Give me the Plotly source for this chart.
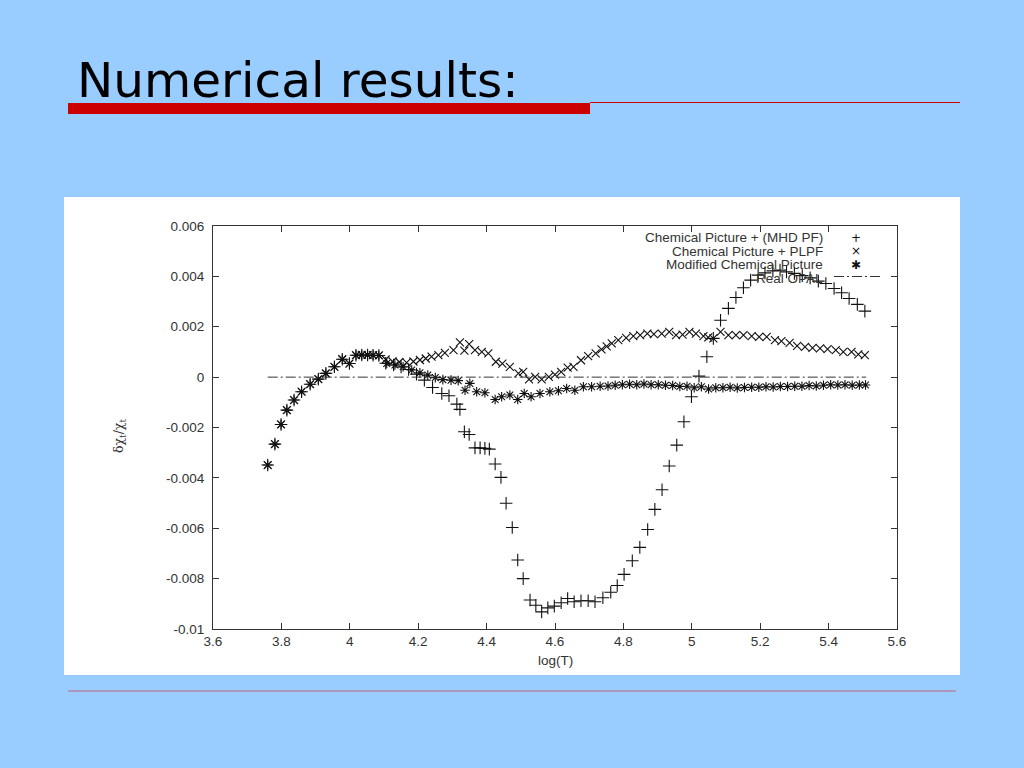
import plotly.graph_objects as go

# ---------------- data ----------------
# common low-temperature part shared by all three computed series
common_logT = [3.760, 3.781, 3.799, 3.816, 3.837, 3.859, 3.884, 3.908, 3.930, 3.955,
               3.978, 3.999, 4.018, 4.035, 4.052, 4.068, 4.085]
common_dchi = [-3.49, -2.66, -1.88, -1.31, -0.91, -0.58, -0.28, -0.08, 0.15, 0.41,
               0.71, 0.54, 0.87, 0.88, 0.88, 0.87, 0.86]

# Chemical Picture + (MHD PF)
mhd_logT = [4.105, 4.128, 4.150, 4.172, 4.195, 4.218, 4.242, 4.269, 4.290, 4.313,
            4.322, 4.335, 4.349, 4.366, 4.381, 4.395, 4.408, 4.425, 4.442, 4.457,
            4.475, 4.491, 4.507, 4.527, 4.544, 4.561, 4.579, 4.598, 4.618, 4.637,
            4.656, 4.676, 4.697, 4.717, 4.740, 4.763, 4.782, 4.802, 4.826, 4.848,
            4.871, 4.892, 4.913, 4.934, 4.956, 4.977, 4.999, 5.021, 5.044, 5.063,
            5.084, 5.107, 5.129, 5.151, 5.172, 5.194, 5.214, 5.237, 5.258, 5.277,
            5.300, 5.323, 5.346, 5.370, 5.392, 5.416, 5.438, 5.460, 5.484, 5.506]
mhd_dchi = [0.55, 0.48, 0.40, 0.30, 0.12, -0.12, -0.41, -0.65, -0.74, -1.07,
            -1.28, -2.17, -2.28, -2.81, -2.81, -2.83, -2.86, -3.45, -3.98, -5.01,
            -5.97, -7.26, -8.00, -8.85, -9.06, -9.32, -9.16, -9.09, -8.96, -8.79,
            -8.92, -8.88, -8.88, -8.92, -8.76, -8.54, -8.27, -7.83, -7.29, -6.76,
            -6.05, -5.25, -4.47, -3.53, -2.70, -1.77, -0.78, 0.04, 0.81, 1.54,
            2.26, 2.73, 3.16, 3.55, 3.85, 4.05, 4.14, 4.22, 4.25, 4.18,
            4.12, 4.03, 3.94, 3.81, 3.72, 3.52, 3.35, 3.12, 2.89, 2.62]

# Chemical Picture + PLPF
plpf_logT = [4.105, 4.125, 4.145, 4.166, 4.186, 4.205, 4.222, 4.239, 4.259, 4.278,
             4.303, 4.322, 4.335, 4.349, 4.366, 4.386, 4.405, 4.427, 4.446, 4.468,
             4.493, 4.507, 4.524, 4.542, 4.561, 4.582, 4.600, 4.618, 4.637, 4.654,
             4.676, 4.697, 4.719, 4.736, 4.751, 4.766, 4.785, 4.808, 4.829, 4.849,
             4.870, 4.889, 4.912, 4.934, 4.954, 4.973, 4.993, 5.012, 5.034, 5.048,
             5.063, 5.084, 5.107, 5.129, 5.151, 5.175, 5.197, 5.219, 5.243, 5.262,
             5.286, 5.308, 5.331, 5.353, 5.375, 5.397, 5.421, 5.443, 5.467, 5.487,
             5.506]
plpf_dchi = [0.70, 0.62, 0.60, 0.58, 0.62, 0.68, 0.74, 0.81, 0.87, 0.96,
             1.07, 1.38, 1.05, 1.31, 1.07, 1.00, 0.94, 0.61, 0.54, 0.41,
             0.15, 0.21, -0.09, 0.01, -0.09, 0.01, 0.10, 0.21, 0.38, 0.41,
             0.67, 0.83, 0.94, 1.10, 1.22, 1.34, 1.47, 1.56, 1.63, 1.67,
             1.73, 1.71, 1.73, 1.80, 1.67, 1.69, 1.80, 1.73, 1.63, 1.58,
             1.54, 1.80, 1.67, 1.67, 1.67, 1.63, 1.60, 1.60, 1.47, 1.43,
             1.36, 1.24, 1.20, 1.16, 1.14, 1.11, 1.07, 1.00, 1.00, 0.90,
             0.87]

# Modified Chemical Picture
mod_logT = [4.108, 4.132, 4.156, 4.181, 4.205, 4.228, 4.250, 4.272, 4.296, 4.317,
            4.337, 4.351, 4.371, 4.395, 4.425, 4.444, 4.468, 4.491, 4.510, 4.530,
            4.556, 4.585, 4.610, 4.634, 4.658, 4.683, 4.707, 4.732, 4.755, 4.776,
            4.797, 4.818, 4.839, 4.860, 4.881, 4.902, 4.923, 4.944, 4.965, 4.986,
            5.007, 5.028, 5.049, 5.070, 5.091, 5.112, 5.133, 5.154, 5.175, 5.196,
            5.217, 5.238, 5.259, 5.280, 5.301, 5.322, 5.343, 5.364, 5.385, 5.406,
            5.427, 5.448, 5.469, 5.490, 5.508]
mod_dchi = [0.54, 0.48, 0.41, 0.28, 0.17, 0.08, -0.02, -0.10, -0.12, -0.14,
            -0.52, -0.25, -0.58, -0.62, -0.89, -0.78, -0.71, -0.89, -0.65, -0.78,
            -0.65, -0.58, -0.54, -0.45, -0.52, -0.38, -0.38, -0.36, -0.35, -0.32,
            -0.30, -0.28, -0.30, -0.27, -0.30, -0.30, -0.32, -0.33, -0.37, -0.36,
            -0.42, -0.38, -0.47, -0.42, -0.42, -0.40, -0.43, -0.41, -0.40, -0.40,
            -0.38, -0.39, -0.37, -0.37, -0.36, -0.36, -0.33, -0.35, -0.32, -0.30,
            -0.31, -0.30, -0.32, -0.31, -0.31]

# Real OPAL reference (zero line)
opal_logT = [3.760, 5.510]
opal_dchi = [0.0, 0.0]

series_names = ["Chemical Picture + (MHD PF)", "Chemical Picture + PLPF",
                "Modified Chemical Picture", "Real OPAL"]

x_tickvals = [3.6, 3.8, 4.0, 4.2, 4.4, 4.6, 4.8, 5.0, 5.2, 5.4, 5.6]
x_ticktext = ["3.6", "3.8", "4", "4.2", "4.4", "4.6", "4.8", "5", "5.2", "5.4", "5.6"]
y_tickvals = [0.006, 0.004, 0.002, 0.0, -0.002, -0.004, -0.006, -0.008, -0.01]
y_ticktext = ["0.006", "0.004", "0.002", "0", "-0.002", "-0.004", "-0.006", "-0.008", "-0.01"]

slide_title = "Numerical results:"
SCALE = 1e-3  # values above are in units of 1e-3

# ---------------- layout helpers ----------------
W, H = 1024, 768
L, R, T, B = 213, 897, 226, 629


def px(xp):
    return (xp - L) / (R - L)


def py(yp):
    return (B - yp) / (B - T)


INK = "#111111"
fig = go.Figure()


def add_markers(xs, ys, name, symbol, size):
    fig.add_trace(go.Scatter(
        x=xs, y=[v * SCALE for v in ys], mode="markers", name=name,
        marker=dict(symbol=symbol, size=size, color=INK,
                    line=dict(color=INK, width=1.1)),
        showlegend=False))


add_markers(common_logT + plpf_logT, common_dchi + plpf_dchi, series_names[1], "x-thin", 8)
add_markers(common_logT + mod_logT, common_dchi + mod_dchi, series_names[2], "asterisk", 8)
add_markers(common_logT + mhd_logT, common_dchi + mhd_dchi, series_names[0], "cross-thin", 9)

fig.add_trace(go.Scatter(
    x=opal_logT, y=opal_dchi, mode="lines", name=series_names[3],
    line=dict(color="#333333", width=1, dash="10px,3px,2px,3px"), showlegend=False))

shapes = [
    # white chart panel
    dict(type="rect", xref="paper", yref="paper", layer="below",
         x0=px(64), x1=px(960), y0=py(675), y1=py(197),
         fillcolor="white", line=dict(width=0)),
    # red title bar and thin rule
    dict(type="rect", xref="paper", yref="paper",
         x0=px(68), x1=px(590), y0=py(114), y1=py(103),
         fillcolor="#CC0000", line=dict(width=0)),
    dict(type="line", xref="paper", yref="paper",
         x0=px(590), x1=px(960), y0=py(102.5), y1=py(102.5),
         line=dict(color="#CC0000", width=1)),
    # bottom rule
    dict(type="line", xref="paper", yref="paper",
         x0=px(68), x1=px(956), y0=py(691), y1=py(691),
         line=dict(color="#C0607A", width=1)),
    # legend line sample
    dict(type="line", xref="paper", yref="paper",
         x0=px(834), x1=px(880), y0=py(276.5), y1=py(276.5),
         line=dict(color="#333333", width=1, dash="10px,3px,2px,3px")),
]

LEGFONT = dict(family="Liberation Sans, Arial, sans-serif", size=13.5, color="#333333")
annotations = [
    dict(text=slide_title, xref="paper", yref="paper", x=px(75), y=py(80),
         xanchor="left", yanchor="middle", showarrow=False,
         font=dict(family="DejaVu Sans, Verdana, sans-serif", size=48.5, color="#000000")),
    dict(text="log(T)", xref="paper", yref="paper", x=px(555), y=py(660),
         xanchor="center", yanchor="middle", showarrow=False,
         font=dict(family="Liberation Sans, Arial, sans-serif", size=13.5, color="#333333")),
    dict(text="δχ<sub>t</sub>/χ<sub>t</sub>", xref="paper", yref="paper", x=px(119), y=py(436),
         xanchor="center", yanchor="middle", showarrow=False, textangle=-90,
         font=dict(family="DejaVu Serif, serif", size=12.5, color="#333333")),
]
legend_rows = [237.5, 251, 264.5, 278]
legend_syms = ["+", "×", "✱", ""]
for name, yrow, sym in zip(series_names, legend_rows, legend_syms):
    annotations.append(dict(text=name, xref="paper", yref="paper", x=px(824), y=py(yrow),
                            xanchor="right", yanchor="middle", showarrow=False, font=LEGFONT,
                            borderpad=0, bgcolor="rgba(0,0,0,0)"))
    if sym:
        annotations.append(dict(text=sym, xref="paper", yref="paper", x=px(856), y=py(yrow),
                                xanchor="center", yanchor="middle", showarrow=False,
                                borderpad=0,
                                font=dict(family="DejaVu Sans, sans-serif", size=12, color=INK)))

axis_common = dict(showgrid=False, zeroline=False, showline=True, linecolor="#333333",
                   linewidth=1, mirror="allticks", ticks="inside", ticklen=6,
                   tickcolor="#333333", tickwidth=1,
                   tickfont=dict(family="Liberation Sans, Arial, sans-serif", size=13.5,
                                 color="#333333"))

fig.update_layout(
    width=W, height=H,
    margin=dict(l=L, r=W - R, t=T, b=H - B, pad=0),
    paper_bgcolor="#99CCFF", plot_bgcolor="white",
    xaxis=dict(range=[3.6, 5.6], tickvals=x_tickvals, ticktext=x_ticktext, **axis_common),
    yaxis=dict(range=[-0.01, 0.006], tickvals=y_tickvals, ticktext=y_ticktext,
               ticklabelstandoff=5, **axis_common),
    shapes=shapes, annotations=annotations, showlegend=False,
)

fig.write_html("out.html", config={"displayModeBar": False},
               post_script="document.body.style.margin='0';document.body.style.overflow='hidden';")
